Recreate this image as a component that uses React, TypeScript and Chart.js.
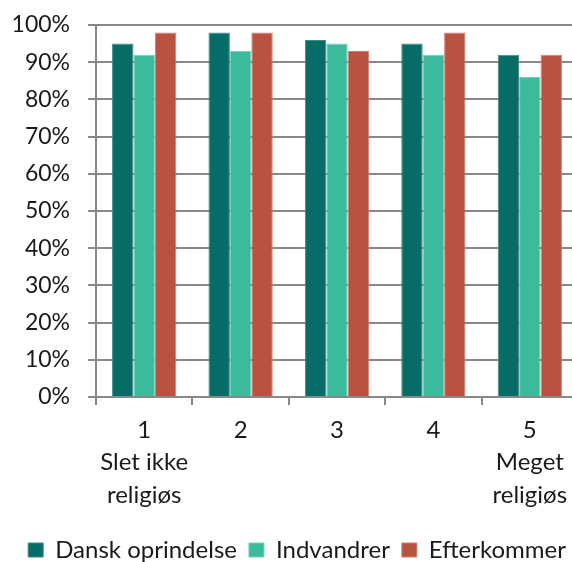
import React, { useEffect, useRef } from "react";
import { Chart, registerables } from "chart.js";

Chart.register(...registerables);

const categories: string[][] = [
  ["1", "Slet ikke", "religiøs"],
  ["2"],
  ["3"],
  ["4"],
  ["5", "Meget", "religiøs"],
];
const danskOprindelse = [95, 98, 96, 95, 92];
const indvandrer = [92, 93, 95, 92, 86];
const efterkommer = [98, 98, 93, 98, 92];
const seriesNames = ["Dansk oprindelse", "Indvandrer", "Efterkommer"];
const yTicks = [0, 10, 20, 30, 40, 50, 60, 70, 80, 90, 100];

const FONT = "Lato, 'Noto Sans', sans-serif";

export default function App() {
  const ref = useRef<HTMLCanvasElement | null>(null);
  useEffect(() => {
    if (!ref.current) return;
    const chart = new Chart(ref.current, {
      type: "bar",
      data: {
        labels: categories,
        datasets: [
          { label: seriesNames[0], data: danskOprindelse, backgroundColor: "#076B66", borderColor: "#3E8A86", borderWidth: 1 },
          { label: seriesNames[1], data: indvandrer, backgroundColor: "#3BBB9B", borderColor: "#74D0B8", borderWidth: 1 },
          { label: seriesNames[2], data: efterkommer, backgroundColor: "#B85241", borderColor: "#D07E70", borderWidth: 1 },
        ],
      },
      options: {
        animation: false,
        responsive: false,
        maintainAspectRatio: false,
        layout: { padding: { top: 25, right: 2, left: 0, bottom: 0 } },
        datasets: { bar: { barPercentage: 1, categoryPercentage: 0.667 } },
        plugins: {
          tooltip: { enabled: false },
          legend: {
            position: "bottom",
            align: "end",
            labels: {
              font: { family: FONT, size: 24 },
              color: "#1a1a1a",
              boxWidth: 15,
              boxHeight: 14,
              padding: 12,
            },
          },
        },
        scales: {
          x: {
            grid: { display: true, drawOnChartArea: false, tickLength: 8, color: "#888888", lineWidth: 2, offset: true },
            border: { color: "#888888", width: 2 },
            ticks: {
              font: { family: FONT, size: 24, lineHeight: 1.35 },
              color: "#1a1a1a",
              padding: 9,
              maxRotation: 0,
              autoSkip: false,
            },
            afterFit: (s: any) => { s.height = 129; },
          },
          y: {
            min: 0,
            max: 100,
            afterBuildTicks: (s: any) => { s.ticks = yTicks.map((v) => ({ value: v })); },
            grid: { color: "#888888", lineWidth: 2, tickLength: 8 },
            border: { color: "#888888", width: 2 },
            ticks: {
              font: { family: FONT, size: 23, lineHeight: 0.5 },
              color: "#1a1a1a",
              padding: 18,
              callback: (v: any) => v + "%",
            },
            afterFit: (s: any) => { s.width = 96; },
          },
        },
      },
    });
    return () => chart.destroy();
  }, []);
  return (
    <div style={{ position: "absolute", left: 0, top: 0, width: 572, height: 562, overflow: "hidden", background: "#fff" }}>
      <canvas ref={ref} width={580} height={572} style={{ display: "block" }} />
    </div>
  );
}
